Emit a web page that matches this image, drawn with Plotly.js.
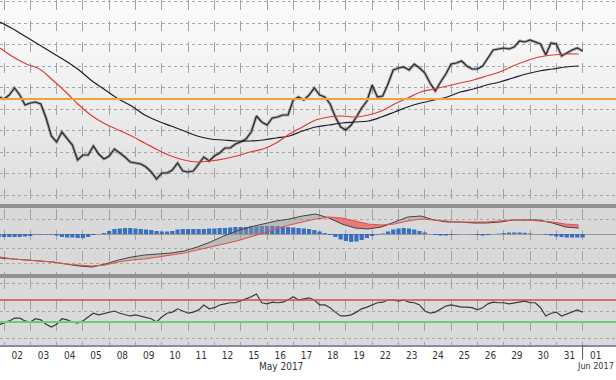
<!DOCTYPE html>
<html><head><meta charset="utf-8">
<script src="https://cdn.plot.ly/plotly-3.0.1.min.js"></script>
<style>
html,body{margin:0;padding:0;background:#fff;}
#chart{width:616px;height:380px;background:linear-gradient(to bottom,#fcfcfc 0px,#f3f3f3 70px,#dcdcdc 204px,#909090 204px,#909090 208px,#d9d9d9 208px,#d9d9d9 274px,#909090 274px,#909090 278px,#dadada 278px,#dadada 345px,#ffffff 345px);}
</style></head><body><div id="chart"></div>
<script>
// Day tick labels (trading days, May 2017 + 01 Jun)
const dayLabels = ['02','03','04','05','08','09','10','11','12','15','16','17','18','19','22','23','24','25','26','29','30','31','01'];
const monthLabels = ['May 2017','Jun 2017'];

// Price (close) sampled 5 times per trading day
const price = [103,101,105,112,105,95,97,98,96,82,
  64,58,68,61,55,40,45,45,54,46,
  41,44,51,47,43,38,37,36,33,28,
  21,27,27,30,37,29,28,29,36,43,
  39,44,47,52,52,56,58,61,68,84,
  78,75,82,83,85,85,100,103,100,105,
  112,105,103,96,83,73,70,75,83,92,
  99,115,103,104,116,130,132,133,130,136,
  132,127,117,109,118,126,136,137,139,134,
  131,131,134,142,150,151,152,151,153,159,
  158,160,158,156,145,157,156,144,147,150,
  152,149];
const horizLevel = 101;

// Moving averages sampled twice per day
const maFast = [152,143,136,131,120,108,95,84,76,70,64,57,50,44,40,38,39,41,44,48,51,57,66,73,80,83,84,83,85,89,96,102,108,111,114,117,120,124,128,134,139,143,145,146,146];
const maSlow = [178,171,163,155,147,139,130,119,110,101,94,85,79,74,69,64,61,60,59,59,60,62,64,69,73,75,77,78,79,83,88,93,97,100,103,108,111,115,118,122,126,129,131,133,134];

// Oscillator panel (main line, signal line) sampled twice per day
const oscMain = [-24,-25,-26,-27,-28,-30,-32,-33,-30,-26,-23,-21,-20,-19,-17,-13,-8,-2,3,7,10,13,15,18,20,16,10,6,5,7,12,17,18,14,12,12,11,11,12,14,14,14,11,7,6];
const oscSignal = [-23,-25,-26,-27,-28,-30,-31,-32,-31,-28,-26,-25,-23,-21,-19,-16,-13,-10,-7,-3,1,5,9,12,15,17,16,13,10,9,10,13,15,14,13,12,12,12,13,14,14,13,12,10,9];
// Histogram, 5 per day
const histo = [-3,-3,-3,-3,-3,-2.5,-2,-0.5,-0.5,-0.5,
  -0.5,-1.5,-3,-3.5,-3.5,-4,-4,-3,-1,0,
  1,3,5,5.5,6,6,5.5,5,4.5,4,
  3,2.5,2.5,3,4.5,5,5,5,5,5,
  5.5,5.5,6,6,6.5,7,7,7,7.5,7.5,
  8,8,8,8,7.5,7,6.5,6,5.5,5,
  4,2.5,1,-1,-3,-5.5,-7,-8,-7.5,-6,
  -4,-2,-0.5,0.5,2.5,4.5,5.5,6,5.5,4.5,
  3,1.5,0,-1,-1.5,-1.5,-1,-0.3,0,0,
  -0.3,-1,-1.5,-1,0,0.3,1,1.5,1.5,1.5,
  1.2,0.5,0,0,-0.5,-1.5,-2.5,-3,-3.5,-3.5,
  -3.5,-3.5];

// RSI, 5 per day
const rsi = [25,28,32,37,37,32,30,36,34,26,
  21,26,36,34,30,28,32,39,46,43,
  45,48,50,46,43,41,43,41,39,36,
  30,39,46,48,54,50,46,48,52,61,
  54,56,61,63,65,65,68,72,76,81,
  65,63,66,65,66,70,76,70,72,74,
  70,61,61,56,48,41,41,43,48,54,
  57,61,65,66,70,70,68,70,66,65,
  61,50,46,48,54,59,61,59,57,57,
  56,52,56,63,66,65,65,63,65,66,
  68,65,65,56,41,46,48,41,45,48,
  52,48];
const rsiHigh = 70, rsiLow = 30;

// time positions (in trading-day units)
const tFine = price.map((_, i) => -0.2 + 0.2 * i);
const tCoarse = maFast.map((_, i) => -0.15 + 0.5 * i);
const centers = dayLabels.map((_, i) => i + 0.5);
const bounds = dayLabels.map((_, i) => i);

const upper = oscMain.map((v, i) => Math.max(v, oscSignal[i]));
const lower = oscMain.map((v, i) => Math.min(v, oscSignal[i]));

const FONT = 'Liberation Sans Narrow, DejaVu Sans Condensed, Liberation Sans, sans-serif';

const traces = [
  {x: tFine, y: price, xaxis: 'x', yaxis: 'y', mode: 'lines', line: {color: 'rgba(70,70,70,0.4)', width: 3}, hoverinfo: 'skip'},
  {x: tFine, y: price, xaxis: 'x', yaxis: 'y', mode: 'lines', line: {color: '#262626', width: 1.2}},
  {x: tCoarse, y: maSlow, xaxis: 'x', yaxis: 'y', mode: 'lines', line: {color: '#1c1c30', width: 1.2, shape: 'spline'}},
  {x: tCoarse, y: maFast, xaxis: 'x', yaxis: 'y', mode: 'lines', line: {color: '#e03a3a', width: 1.2, shape: 'spline'}},

  {x: tFine, y: histo, xaxis: 'x2', yaxis: 'y2', type: 'bar', marker: {color: 'rgba(40,100,190,0.9)', line: {width: 0}}},
  {x: tCoarse, y: oscSignal, xaxis: 'x2', yaxis: 'y2', mode: 'lines', line: {width: 0}, hoverinfo: 'skip'},
  {x: tCoarse, y: upper, xaxis: 'x2', yaxis: 'y2', mode: 'lines', line: {width: 0}, fill: 'tonexty', fillcolor: 'rgba(150,150,150,0.45)', hoverinfo: 'skip'},
  {x: tCoarse, y: oscSignal, xaxis: 'x2', yaxis: 'y2', mode: 'lines', line: {width: 0}, hoverinfo: 'skip'},
  {x: tCoarse, y: lower, xaxis: 'x2', yaxis: 'y2', mode: 'lines', line: {width: 0}, fill: 'tonexty', fillcolor: 'rgba(235,85,85,0.7)', hoverinfo: 'skip'},
  {x: tCoarse, y: oscMain, xaxis: 'x2', yaxis: 'y2', mode: 'lines', line: {color: '#444', width: 1}},
  {x: tCoarse, y: oscSignal, xaxis: 'x2', yaxis: 'y2', mode: 'lines', line: {color: '#e65050', width: 1.2}},

  {x: tFine, y: rsi, xaxis: 'x3', yaxis: 'y3', mode: 'lines', line: {color: '#3a3a3a', width: 1.2}}
];

const xRange = [-0.152, 23.27];
function xAx(anchor, labels) {
  return {
    anchor: anchor, domain: [0, 1], range: xRange, fixedrange: true,
    tickmode: 'array', tickvals: centers, ticktext: dayLabels,
    showticklabels: labels, ticks: '', showgrid: false, zeroline: false,
    tickfont: {family: FONT, size: 10, color: '#333'},
    minor: {tickmode: 'array', tickvals: bounds, showgrid: true, gridcolor: '#a3a3a3', griddash: '10px,11px', gridwidth: 1, ticks: ''},
    showline: labels, linecolor: '#8a8aa6', linewidth: 2
  };
}
function yAx(domain, range, tick0, dtick, zl) {
  return {
    domain: domain, range: range, tickmode: 'linear', tick0: tick0, dtick: dtick,
    showticklabels: false, ticks: '', showgrid: true, gridcolor: '#a8a8a8', griddash: 'dot', gridwidth: 1,
    zeroline: zl, zerolinecolor: '#9a9a9a', zerolinewidth: 1, fixedrange: true
  };
}

const layout = {
  width: 616, height: 380,
  margin: {l: 0, r: 0, t: 0, b: 35},
  paper_bgcolor: 'rgba(0,0,0,0)', plot_bgcolor: 'rgba(0,0,0,0)',
  showlegend: false, bargap: 0.2,
  xaxis: xAx('y', false), xaxis2: xAx('y2', false), xaxis3: xAx('y3', true),
  yaxis: yAx([0.4058, 1], [-5, 200], 5, 21.5, false),
  yaxis2: yAx([0.2058, 0.3942], [-40, 25], 0, 14.5, true),
  yaxis3: yAx([0, 0.1913], [-11.8, 108.2], 0, 50, false),
  shapes: [
    {type: 'line', xref: 'paper', x0: 0, x1: 1, yref: 'y', y0: horizLevel, y1: horizLevel, line: {color: '#f0a33c', width: 2}},
    {type: 'line', xref: 'paper', x0: 0, x1: 1, yref: 'y3', y0: rsiHigh, y1: rsiHigh, line: {color: '#d94848', width: 1.5}},
    {type: 'line', xref: 'paper', x0: 0, x1: 1, yref: 'y3', y0: rsiLow, y1: rsiLow, line: {color: '#6ccf6c', width: 2}},
    {type: 'line', xref: 'x3', x0: 22, x1: 22, yref: 'paper', y0: 0, y1: -0.042, line: {color: '#555', width: 1}}
  ],
  annotations: [
    {xref: 'x3', x: 10.55, yref: 'paper', y: -0.062, text: monthLabels[0], showarrow: false, xanchor: 'center', yanchor: 'middle',
     font: {family: FONT, size: 10, color: '#333'}},
    {xref: 'paper', x: 1, yref: 'paper', y: -0.062, text: monthLabels[1], showarrow: false, xanchor: 'right', yanchor: 'middle',
     font: {family: FONT, size: 9, color: '#333'}}
  ]
};

Plotly.newPlot('chart', traces, layout, {staticPlot: true, displayModeBar: false});
</script>
</body></html>
